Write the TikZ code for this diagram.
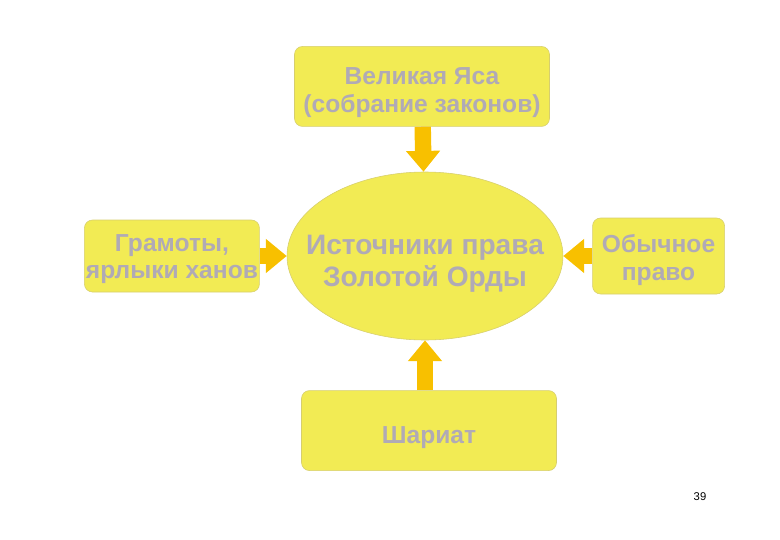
\documentclass[tikz,border=0pt]{standalone}
\usepackage{fontspec}
\setsansfont{Liberation Sans}
\usetikzlibrary{positioning,shapes,arrows.meta,calc}

\definecolor{boxfill}{RGB}{242,235,84}
\definecolor{boxline}{RGB}{214,206,110}
\definecolor{arrowcol}{RGB}{248,192,0}
\definecolor{textgrey}{RGB}{176,170,182}

\begin{document}
\begin{tikzpicture}[
    source/.style={rectangle, rounded corners=0.2cm, draw=boxline, fill=boxfill, align=center, text=textgrey, font=\sffamily\bfseries\fontsize{17.5}{19.5}\selectfont},
    centre/.style={ellipse, draw=boxline, fill=boxfill, inner sep=0pt, minimum width=6.9cm, minimum height=4.2cm},
    centretext/.style={align=center, text=textgrey, font=\sffamily\bfseries\fontsize{20}{23}\selectfont},
    arrow/.style={-{Triangle[width=0.82cm,length=0.52cm]}, draw=arrowcol, line width=0.41cm}
]
    \useasboundingbox (0,0) rectangle (19.5,-13.5);

    \node[centre] (law) at (10.625,-6.4) {};
    \node[centretext, yshift=-0.2cm] (lawtext) at (law) {
        Источники права \\
        Золотой Орды
    };

    \node[source, minimum width=6.375cm, minimum height=2cm, above=1.125cm of law, xshift=-0.075cm] (yasa) {};
    \node[source, draw=none, fill=none, yshift=-0.15cm] (yasatext) at (yasa) {
        Великая Яса \\
        (собрание законов)
    };

    \node[source, minimum width=4.375cm, minimum height=1.8cm, left=0.675cm of law] (charters) {};
    \node[source, draw=none, fill=none, yshift=-0.08cm] (chartertext) at (charters) {
        Грамоты, \\
        ярлыки ханов
    };

    \node[source, minimum width=3.3cm, minimum height=1.9cm, right=0.725cm of law] (custom) {};
    \node[source, draw=none, fill=none, yshift=-0.1cm] (customtext) at (custom) {
        Обычное \\
        право
    };

    \node[source, minimum width=6.375cm, minimum height=2cm, below=1.25cm of law, xshift=0.1cm] (sharia) {};
    \node[source, draw=none, fill=none, yshift=-0.17cm] (shariatext) at (sharia) {Шариат};

    \draw[arrow] (yasa) -- (law);
    \draw[arrow] (charters) -- (law);
    \draw[arrow] (custom) -- (law);
    \draw[arrow] (sharia.north -| law.south) -- (law.south);

    \node[font=\sffamily\footnotesize] (page) at (17.5,-12.42) {39};
\end{tikzpicture}
\end{document}
